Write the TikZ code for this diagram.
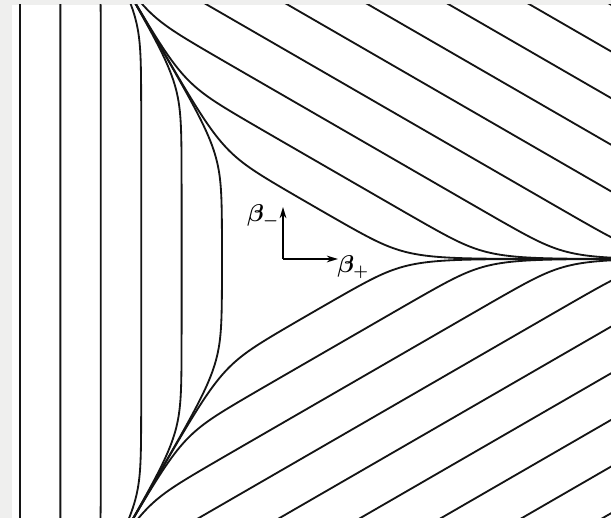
\documentclass[tikz,border=0pt]{standalone}
\usepackage{xfp}
\usetikzlibrary{arrows.meta}
\definecolor{pagegray}{RGB}{239,239,238}
\tikzset{
  contour/.style={line width=1.3pt, black!92, line join=round},
  axisarrow/.style={line width=1.2pt, -{Stealth[length=8pt,width=4.8pt]}},
  betalabel/.style={font=\fontsize{18}{18}\selectfont\boldmath, inner sep=0pt},
}
% curve of the Bianchi IX equipotential (branch beta_- > 0), level given by wall distance #1
\newcommand\mkcurve[1]{%
  \gdef\curvepts{}%
  \foreach \i in {0,...,252}{%
    \edef\bb{\fpeval{round(-3.1+0.04*\i,4)}}%
    \edef\cc{\fpeval{0.5*exp(-6*\bb)+sqrt(1+0.25*exp(8*(#1)-4*\bb))}}%
    \edef\mm{\fpeval{round(ln(\cc+sqrt(\cc*\cc-1))/(2*sqrt(3)),4)}}%
    \xdef\curvepts{\curvepts(\bb,\mm)}%
  }%
}
\begin{document}
\begin{tikzpicture}[x=0.025cm,y=0.025cm]
\fill[pagegray] (0,0) rectangle (611,518);
\fill[white] (12,0) rectangle (611,513);
\useasboundingbox (0,0) rectangle (611,518);
\begin{scope}
  \clip (12,0) rectangle (611,513);
  \foreach \D in {61,101.4,141.8,182.2,222.6,263,303.4,343.8,384.2}{%
    \mkcurve{\D/52}%
    \begin{scope}[shift={(283,259)}, scale=52]
      \edef\tmpdraw{\noexpand\draw[contour] plot coordinates {\curvepts};
        \noexpand\draw[contour, yscale=-1] plot coordinates {\curvepts};
        \noexpand\draw[contour, rotate=120] plot coordinates {\curvepts};}%
      \tmpdraw
    \end{scope}
  }
\end{scope}
\coordinate (O) at (283,259);
\coordinate (bmtip) at (283,311);
\coordinate (bptip) at (338,259);
\draw[axisarrow] (O) -- (bmtip);
\draw[axisarrow] (O) -- (bptip);
\node[betalabel] (lminus) at (263,302) {$\beta_-$};
\node[betalabel] (lplus) at (353,251) {$\beta_+$};
\end{tikzpicture}
\end{document}
